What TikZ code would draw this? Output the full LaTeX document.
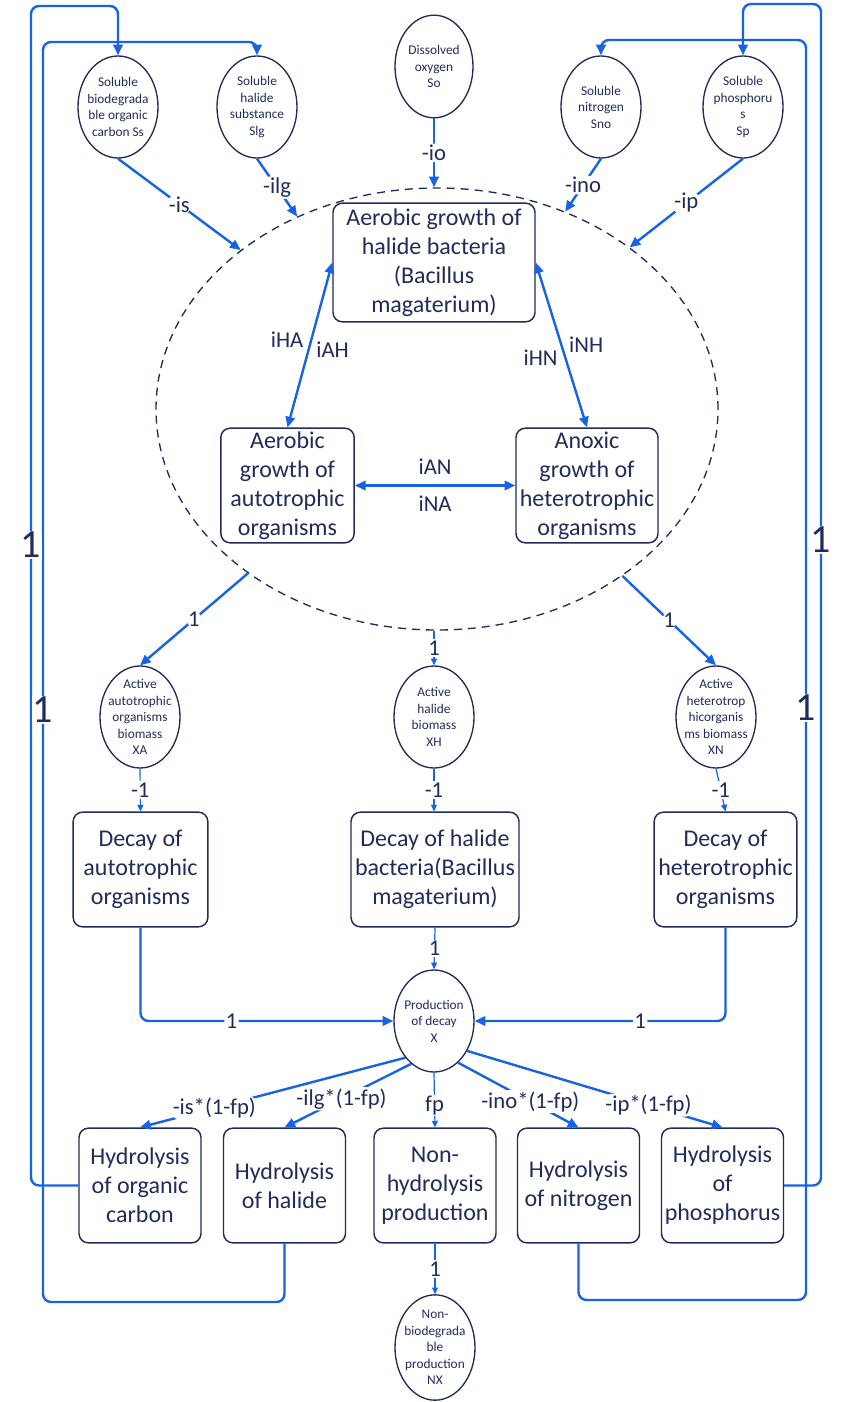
\documentclass[tikz,border=0pt]{standalone}
\usepackage{fontspec}
\setmainfont{Carlito}
\usetikzlibrary{arrows.meta,shapes.geometric}
\definecolor{navy}{RGB}{33,44,92}
\definecolor{lblue}{RGB}{22,100,228}
\begin{document}
\begin{tikzpicture}[x=0.75pt,y=-0.75pt,
 ell/.style={ellipse,draw=navy,line width=1pt,fill=white,text=navy,align=center,inner sep=-8pt,minimum width=60pt,minimum height=76.5pt,font=\fontsize{10}{12.4}\selectfont},
 box/.style={rectangle,rounded corners=7pt,draw=navy,line width=1.1pt,fill=white,text=navy,align=center,inner sep=0pt,minimum height=86pt,font=\fontsize{18}{21.75}\selectfont},
 conn/.style={draw=lblue,line width=1.8pt,rounded corners=6pt},
 arr/.style={conn,-{Triangle[length=8pt,width=7pt]}},
 darr/.style={conn,{Triangle[length=8pt,width=7pt]}-{Triangle[length=8pt,width=7pt]}},
 tarr/.style={draw=lblue,line width=0.9pt,-{Triangle[length=5pt,width=4.5pt]}},
 elab/.style={fill=white,text=navy,inner sep=1pt,font=\fontsize{17}{17}\selectfont},
 slab/.style={fill=white,text=navy,inner sep=1pt,font=\fontsize{17}{17}\selectfont},
 blab/.style={fill=white,text=navy,inner sep=0.5pt,font=\fontsize{30}{30}\selectfont},
 ilab/.style={text=navy,inner sep=1pt,font=\fontsize{17}{17}\selectfont},
]
\fill[white] (0,0) rectangle (850,1402);
\useasboundingbox (0,0) rectangle (850,1402);

% process zone
\node[ellipse,draw=navy,line width=1pt,dash pattern=on 6pt off 4.5pt,minimum width=421.5pt,minimum height=331.5pt,inner sep=0pt] (zone) at (437,409) {};

% top substances
\node[ell] (ss) at (118,107) {Soluble\\biodegrada\\ble organic\\carbon Ss};
\node[ell] (slg) at (257,107) {Soluble\\halide\\substance\\Slg};
\node[ell,minimum height=77pt,minimum width=58.5pt] (so) at (434,66.5) {Dissolved\\oxygen\\So};
\node[ell] (sno) at (601,107) {Soluble\\nitrogen\\Sno};
\node[ell] (sp) at (743,107) {Soluble\\phosphoru\\s\\Sp};

% growth processes
\node[box,minimum width=151.5pt,minimum height=89pt] (hal) at (434,262.5) {Aerobic growth of\\halide bacteria\\(Bacillus\\magaterium)};
\node[box,minimum width=100pt] (auto) at (287.5,485.5) {Aerobic\\growth of\\autotrophic\\organisms};
\node[box,minimum width=106.5pt] (anox) at (587,485.5) {Anoxic\\growth of\\heterotrophic\\organisms};

% biomass
\node[ell] (xa) at (140,717) {Active\\autotrophic\\organisms\\biomass\\XA};
\node[ell] (xh) at (434,717) {Active\\halide\\biomass\\XH};
\node[ell] (xn) at (716,717) {Active\\heterotrop\\hicorganis\\ms biomass\\XN};

% decay
\node[box,minimum width=101pt] (da) at (140.5,869.5) {Decay of\\autotrophic\\organisms};
\node[box,minimum width=126pt] (dh) at (435,869.5) {Decay of halide\\bacteria(Bacillus\\magaterium)};
\node[box,minimum width=107pt] (dn) at (725.5,869.5) {Decay of\\heterotrophic\\organisms};

\node[ell] (x) at (434,1021) {Production\\of decay\\X};

% hydrolysis
\node[box,minimum width=91.5pt] (hc) at (140,1185.5) {Hydrolysis\\of organic\\carbon};
\node[box,minimum width=91.5pt] (hh) at (284.5,1185.5) {Hydrolysis\\of halide};
\node[box,minimum width=91.5pt] (nh) at (435,1185.5) {Non-\\hydrolysis\\production};
\node[box,minimum width=91.5pt] (hn) at (578.5,1185.5) {Hydrolysis\\of nitrogen};
\node[box,minimum width=91.5pt] (hp) at (722.5,1185.5) {Hydrolysis\\of\\phosphorus};

\node[ell,minimum height=79pt] (nx) at (435,1347.5) {Non-\\biodegrada\\ble\\production\\NX};

% loop corner coordinates
\coordinate (lo) at (31,6);
\coordinate (lia) at (43,1302);
\coordinate (lib) at (43,42);
\coordinate (ro) at (821,4);
\coordinate (ria) at (806,1300);
\coordinate (rib) at (806,40);

% inputs to zone
\draw[arr] (ss.south) -- (zone.141) node[elab,midway]{-is};
\draw[arr] (slg.south) -- (zone.126) node[elab,midway]{-ilg};
\draw[arr] (so.south) -- (so.south |- zone.north) node[elab,midway]{-io};
\draw[arr] (sno.south) -- (zone.57) node[elab,midway]{-ino};
\draw[arr] (sp.south) -- (zone.40) node[elab,midway]{-ip};

% inner interactions
\draw[darr] (hal.west) -- (auto.north) node[ilab,left=4pt,pos=0.47]{iHA} node[ilab,right=4pt,pos=0.53]{iAH};
\draw[darr] (hal.east) -- (anox.north) node[ilab,left=4pt,pos=0.58]{iHN} node[ilab,right=4pt,pos=0.5]{iNH};
\draw[darr] (auto.east) -- (anox.west) node[ilab,above=6pt,midway]{iAN} node[ilab,below=6pt,midway]{iNA};

% outputs of zone
\draw[arr] (zone.221) -- (xa.north) node[slab,midway]{1};
\draw[tarr] (xh.north |- zone.south) -- (xh.north) node[slab,midway]{1};
\draw[arr] (zone.318) -- (xn.north) node[slab,midway]{1};

% decay
\draw[tarr] (xa.south) -- (da.north) node[slab,midway]{-1};
\draw[tarr] (xh.south) -- (xh.south |- dh.north) node[slab,midway]{-1};
\draw[tarr] (xn.south) -- (dn.north) node[slab,midway]{-1};

\draw[arr] (da.south) |- (x.west) node[slab,pos=0.68]{1};
\draw[tarr] (dh.south) -- (x.north) node[slab,midway]{1};
\draw[arr] (dn.south) |- (x.east) node[slab,pos=0.67]{1};

% production of decay to hydrolysis
\draw[arr] (x.232) -- (hc.north) node[elab,pos=0.72]{-is*(1-fp)};
\draw[arr] (x.242) -- (hh.north) node[elab,pos=0.55]{-ilg*(1-fp)};
\draw[tarr] (x.south) -- (nh.north) node[elab,pos=0.6]{fp};
\draw[arr] (x.300) -- (hn.north) node[elab,pos=0.6]{-ino*(1-fp)};
\draw[arr] (x.318) -- (hp.north) node[elab,pos=0.71]{-ip*(1-fp)};
\draw[tarr] (nh.south) -- (nx.north) node[slab,midway]{1};

% recycle loops
\draw[arr] (hc.west) -| (lo) -| (ss.north);
\draw[arr] (hh.south) |- (lia) -- (lib) -| (slg.north);
\draw[arr] (hp.east) -| (ro) -| (sp.north);
\draw[arr] (hn.south) |- (ria) -- (rib) -| (sno.north);

\node[blab] (one1) at (31,545) {1};
\node[blab] (one2) at (43,710) {1};
\node[blab] (one3) at (821,540) {1};
\node[blab] (one4) at (806,708) {1};
\end{tikzpicture}
\end{document}
